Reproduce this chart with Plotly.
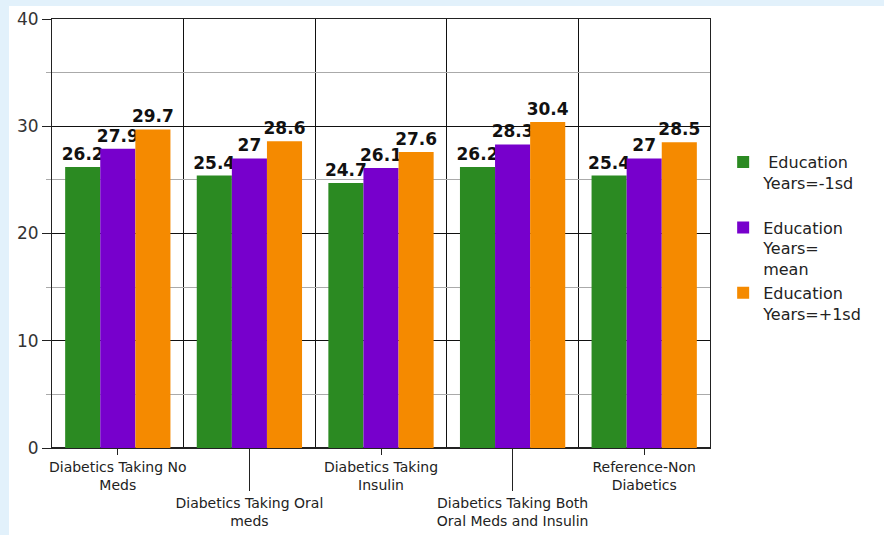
import plotly.graph_objects as go

categories = [
    "Diabetics Taking No<br>Meds",
    "Diabetics Taking Oral<br>meds",
    "Diabetics Taking<br>Insulin",
    "Diabetics Taking Both<br>Oral Meds and Insulin",
    "Reference-Non<br>Diabetics",
]
series_names = [
    "\u00a0Education<br>Years=-1sd<br>\u00a0",
    "Education<br>Years=<br>mean",
    "Education<br>Years=+1sd",
]
edu_minus1sd = [26.2, 25.4, 24.7, 26.2, 25.4]
edu_mean = [27.9, 27.0, 26.1, 28.3, 27.0]
edu_plus1sd = [29.7, 28.6, 27.6, 30.4, 28.5]
colors = ["#2b8a22", "#7700cc", "#f58a00"]

xpos = list(range(len(categories)))
series = [edu_minus1sd, edu_mean, edu_plus1sd]

fig = go.Figure()
for name, vals, col in zip(series_names, series, colors):
    fig.add_trace(go.Bar(
        x=xpos, y=vals, name=name, marker=dict(color=col, line=dict(width=0)),
        text=[f"{v:g}" for v in vals], textposition="outside",
        textfont=dict(family="DejaVu Sans", size=17, color="#111", weight="bold"),
        constraintext="none", cliponaxis=False,
    ))

even = xpos[0::2]
odd = xpos[1::2]
lo, hi = -0.5, len(categories) - 0.5
bounds = [i - 0.5 for i in range(len(categories) + 1)]

fig.update_layout(
    width=884, height=535,
    margin=dict(l=52, r=174, t=19, b=87),
    paper_bgcolor="#e2f1fb", plot_bgcolor="white",
    barmode="group", bargap=0.2, bargroupgap=0,
    font=dict(family="DejaVu Sans", color="#222"),
    xaxis=dict(range=[lo, hi], tickmode="array", tickvals=even,
               ticktext=[categories[i] for i in even],
               ticks="outside", ticklen=6, tickcolor="#222",
               tickfont=dict(size=14, color="#222"),
               showgrid=False, zeroline=False, showline=True, linecolor="#222",
               mirror=True, automargin=False,
               minor=dict(tickmode="array", tickvals=bounds, showgrid=True,
                          gridcolor="#111", gridwidth=1, ticks="")),
    xaxis2=dict(range=[lo, hi], overlaying="x", anchor="y", side="bottom",
                tickmode="array", tickvals=odd,
                ticktext=[categories[i] for i in odd],
                ticks="outside", ticklen=42, tickcolor="#222",
                tickfont=dict(size=14, color="#222"), automargin=False,
                showgrid=False, zeroline=False, showline=False),
    yaxis=dict(range=[0, 40], dtick=10, tick0=0, automargin=False,
               ticks="outside", ticklen=9, tickcolor="#222",
               tickfont=dict(size=17, color="#333"),
               showgrid=True, gridcolor="#111", gridwidth=1,
               zeroline=True, zerolinecolor="#222",
               showline=True, linecolor="#222", mirror=True,
               minor=dict(dtick=5, showgrid=True, gridcolor="#aaaaaa",
                          ticks="outside", ticklen=5, tickcolor="#aaaaaa")),
    legend=dict(x=1.02, y=0.706, xanchor="left", yanchor="top",
                valign="top", bgcolor="rgba(0,0,0,0)",
                font=dict(family="DejaVu Sans", size=16, color="#222"),
                itemsizing="constant", tracegroupgap=0),
    shapes=[dict(type="rect", xref="paper", yref="paper",
                 x0=(9 - 52) / 658, x1=2, y0=-1, y1=1 + (19 - 6) / 429,
                 fillcolor="white", line=dict(width=0), layer="below")],
)
# dummy trace to activate xaxis2
fig.add_trace(go.Scatter(x=[lo], y=[0], xaxis="x2", mode="markers",
                         marker=dict(opacity=0), showlegend=False, hoverinfo="skip"))

fig.write_html("out.html")
